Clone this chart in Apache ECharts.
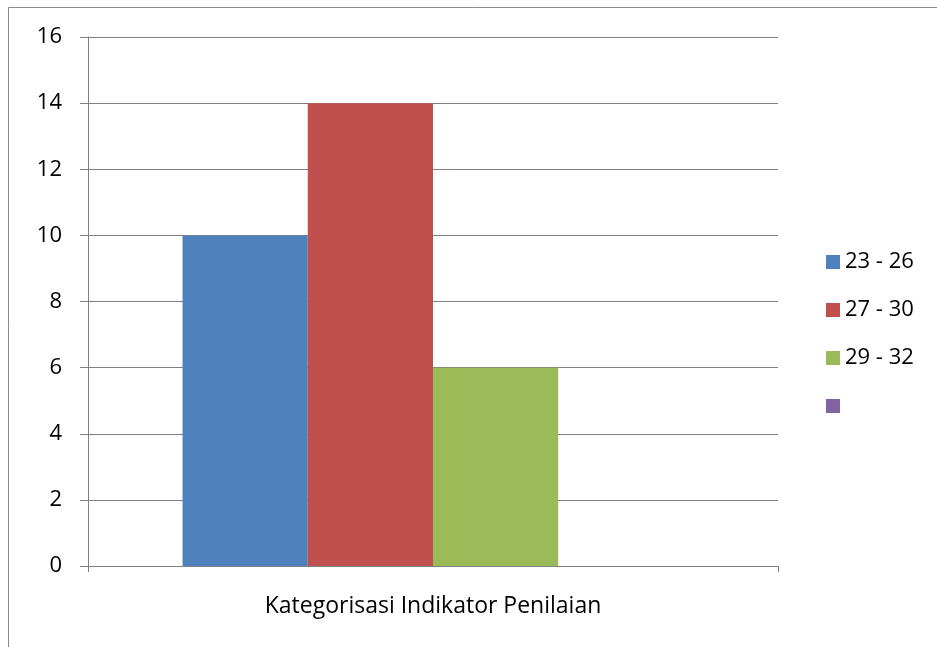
<!DOCTYPE html>
<html><head><meta charset="utf-8">
<script src="https://cdn.jsdelivr.net/npm/echarts@6/dist/echarts.min.js"></script>
<style>html,body{margin:0;padding:0;background:#fff}#c{width:937px;height:647px}</style>
</head><body><div id="c"></div>
<script>
const categories = ['Kategorisasi Indikator Penilaian'];
const seriesNames = ['23 - 26', '27 - 30', '29 - 32', ' '];
const s1 = [10];
const s2 = [14];
const s3 = [6];
const s4 = [null];
const yTicks = [0, 2, 4, 6, 8, 10, 12, 14, 16];

const colors = ['#4F81BD', '#C0504D', '#9BBB59', '#8064A2'];
const values = [s1, s2, s3, s4];
const font = 'Open Sans';
const chart = echarts.init(document.getElementById('c'));
chart.setOption({
  animation: false,
  color: colors,
  graphic: [{type: 'rect', shape: {x: 8.5, y: 7.5, width: 1200, height: 1200}, style: {fill: 'none', stroke: '#8c8c8c', lineWidth: 1}, silent: true}],
  grid: {left: 88, right: 159, top: 37, bottom: 81, containLabel: false},
  legend: {
    orient: 'vertical', left: 821, top: 246, itemWidth: 14, itemHeight: 14, itemGap: 26, icon: 'rect',
    data: seriesNames,
    textStyle: {fontFamily: font, fontSize: 22, color: '#000', lineHeight: 22},
    selectedMode: false
  },
  xAxis: {
    type: 'category', data: categories,
    axisLine: {lineStyle: {color: '#808080', width: 1}},
    axisTick: {show: true, length: 6, lineStyle: {color: '#808080'}},
    axisLabel: {fontFamily: font, fontSize: 23, color: '#000', margin: 29}
  },
  yAxis: {
    type: 'value', min: yTicks[0], max: yTicks[yTicks.length - 1], interval: 2,
    axisLine: {show: true, lineStyle: {color: '#808080', width: 1}},
    axisTick: {show: true, length: 8, inside: false, lineStyle: {color: '#808080'}},
    splitLine: {lineStyle: {color: '#808080', width: 1}},
    axisLabel: {fontFamily: font, fontSize: 22, color: '#000', margin: 26}
  },
  series: seriesNames.map((n, i) => ({
    name: n, type: 'bar', data: values[i], barGap: '0%', barCategoryGap: '27.4%',
    itemStyle: {color: colors[i]}
  }))
});
</script></body></html>
